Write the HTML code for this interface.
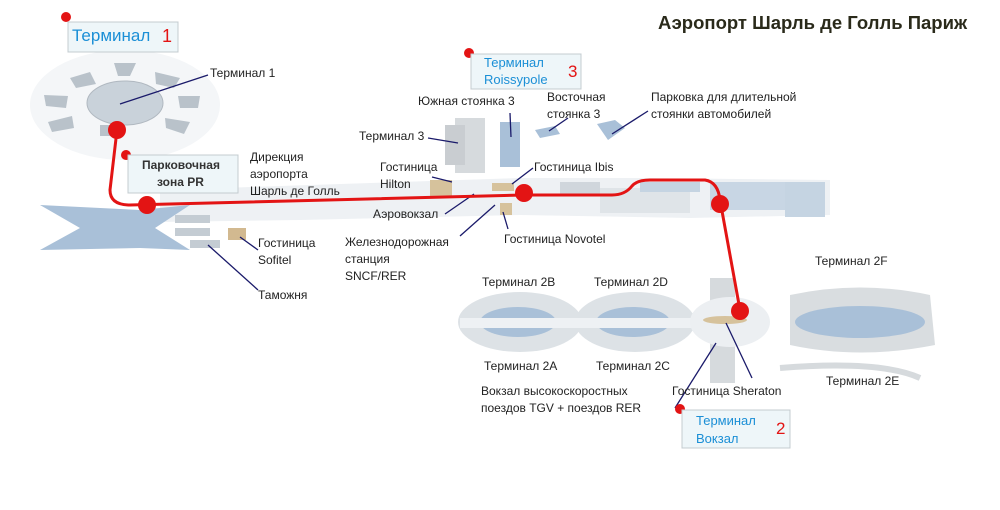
<!DOCTYPE html>
<html><head><meta charset="utf-8"><style>
html,body{margin:0;padding:0;background:#fff;width:1000px;height:510px;overflow:hidden}
svg{display:block}
text{font-family:"Liberation Sans","DejaVu Sans",sans-serif;fill:#222;font-size:12px}
</style></head><body>
<svg width="1000" height="510" viewBox="0 0 1000 510" xmlns="http://www.w3.org/2000/svg">
<rect width="1000" height="510" fill="#fff"/>
<text x="658" y="29" style="font-size:18.5px;font-weight:bold;fill:#2a2a1a">Аэропорт Шарль де Голль Париж</text>

<!-- Terminal 1 area -->
<ellipse cx="125" cy="105" rx="95" ry="55" fill="#f4f6f8"/>
<ellipse cx="125" cy="103" rx="38" ry="22" fill="#c9d2da" stroke="#b0b8c0"/>
<g fill="#b9c2ca">
<polygon points="70,78 90,72 96,84 76,88"/><polygon points="114,63 136,63 130,76 118,76"/>
<polygon points="155,72 180,78 174,88 156,84"/><polygon points="44,95 68,96 66,108 46,106"/>
<polygon points="178,96 200,96 198,108 180,108"/><polygon points="48,122 72,116 74,128 52,132"/>
<polygon points="165,118 190,122 184,134 166,128"/><polygon points="100,125 120,125 118,136 100,136"/>
</g>
<!-- central strip -->
<polygon points="160,190 520,178 640,178 830,180 830,215 690,218 520,215 300,220 160,222" fill="#eef1f4"/>
<rect x="600" y="188" width="90" height="25" fill="#dfe4e8"/>
<rect x="640" y="182" width="60" height="10" fill="#c5d4e2"/>
<rect x="710" y="182" width="80" height="28" fill="#c8d6e4"/>
<rect x="785" y="182" width="40" height="35" fill="#c5d4e2"/>
<rect x="560" y="182" width="40" height="14" fill="#d0d6dc"/>
<!-- bowtie -->
<polygon points="40,205 140,210 190,205 155,228 190,250 140,248 40,250 80,228" fill="#a9c0d8"/>
<rect x="175" y="215" width="35" height="8" fill="#c4ccd3"/><rect x="175" y="228" width="35" height="8" fill="#c4ccd3"/>
<rect x="190" y="240" width="30" height="8" fill="#c4ccd3"/>
<rect x="228" y="228" width="18" height="12" fill="#d2b990"/>
<!-- Terminal 3 area -->
<rect x="455" y="118" width="30" height="55" fill="#d6dadd"/>
<rect x="445" y="125" width="20" height="40" fill="#c9cdd1"/>
<rect x="500" y="122" width="20" height="45" fill="#a9c0d8"/>
<polygon points="535,130 555,126 560,134 540,138" fill="#a9c0d8"/>
<polygon points="597,124 615,120 625,128 608,140" fill="#a9c0d8"/>
<rect x="430" y="180" width="22" height="16" fill="#d6c29c"/>
<rect x="492" y="183" width="22" height="8" fill="#d6c29c"/>
<rect x="500" y="203" width="12" height="12" fill="#d6c29c"/>
<!-- Terminal 2 -->
<ellipse cx="520" cy="322" rx="62" ry="30" fill="#dde2e6"/>
<ellipse cx="518" cy="322" rx="38" ry="15" fill="#a9c0d8"/>
<ellipse cx="635" cy="322" rx="60" ry="30" fill="#dde2e6"/>
<ellipse cx="633" cy="322" rx="37" ry="15" fill="#a9c0d8"/>
<rect x="460" y="318" width="270" height="10" fill="#eef1f4"/>
<rect x="710" y="278" width="25" height="105" fill="#d6dadd"/>
<ellipse cx="730" cy="322" rx="40" ry="25" fill="#eceff2"/>
<ellipse cx="725" cy="320" rx="22" ry="4" fill="#d6c29c"/>
<path d="M790,295 Q860,280 930,295 L935,345 Q860,360 790,345 Z" fill="#d9dde0"/>
<ellipse cx="860" cy="322" rx="65" ry="16" fill="#a9c0d8"/>
<path d="M780,368 Q880,360 920,378" stroke="#d6dadd" stroke-width="6" fill="none"/>

<!-- leader lines -->
<g stroke="#1a1a6a" stroke-width="1.3" fill="none">
<line x1="120" y1="104" x2="208" y2="75"/>
<line x1="240" y1="237" x2="258" y2="250"/><line x1="208" y1="245" x2="258" y2="290"/>
<line x1="458" y1="143" x2="428" y2="138"/><line x1="511" y1="137" x2="510" y2="113"/>
<line x1="549" y1="131" x2="568" y2="118"/><line x1="612" y1="134" x2="648" y2="111"/>
<line x1="452" y1="182" x2="432" y2="177"/><line x1="512" y1="184" x2="533" y2="168"/>
<line x1="474" y1="194" x2="445" y2="214"/><line x1="495" y1="205" x2="460" y2="236"/>
<line x1="503" y1="212" x2="508" y2="229"/>
<line x1="726" y1="323" x2="752" y2="378"/><line x1="716" y1="343" x2="675" y2="408"/>
</g>

<!-- red route -->
<path d="M117,130 L110,190 Q110,205 130,205 L524,195 L612,195 Q625,195 632,186 Q637,180 650,180 L705,180 Q718,182 720,200 L740,310" stroke="#e31414" stroke-width="3" fill="none"/>
<g fill="#e31414">
<circle cx="117" cy="130" r="9"/><circle cx="147" cy="205" r="9"/><circle cx="524" cy="193" r="9"/>
<circle cx="720" cy="204" r="9"/><circle cx="740" cy="311" r="9"/>
<circle cx="66" cy="17" r="5"/><circle cx="126" cy="155" r="5"/><circle cx="469" cy="53" r="5"/><circle cx="680" cy="409" r="5"/>
</g>

<!-- boxes -->
<rect x="68" y="22" width="110" height="30" fill="#eef6f9" stroke="#c4ccd0"/>
<text x="72" y="41" style="font-size:17px;fill:#1b8fd6">Терминал</text>
<text x="162" y="42" style="font-size:18px;fill:#e31414">1</text>
<rect x="128" y="155" width="110" height="38" fill="#eef6f9" stroke="#c4ccd0"/>
<text x="142" y="169" style="font-size:12px;font-weight:bold;fill:#333">Парковочная</text>
<text x="157" y="186" style="font-size:12px;font-weight:bold;fill:#333">зона PR</text>
<rect x="471" y="54" width="110" height="35" fill="#eef6f9" stroke="#c4ccd0"/>
<text x="484" y="67" style="font-size:13px;fill:#1b8fd6">Терминал</text>
<text x="484" y="84" style="font-size:13px;fill:#1b8fd6">Roissypole</text>
<text x="568" y="77" style="font-size:17px;fill:#e31414">3</text>
<rect x="682" y="410" width="108" height="38" fill="#eef6f9" stroke="#c4ccd0"/>
<text x="696" y="425" style="font-size:13px;fill:#1b8fd6">Терминал</text>
<text x="696" y="443" style="font-size:13px;fill:#1b8fd6">Вокзал</text>
<text x="776" y="434" style="font-size:17px;fill:#e31414">2</text>

<!-- labels -->
<text x="210" y="77">Терминал 1</text>
<text x="250" y="161">Дирекция</text><text x="250" y="178">аэропорта</text><text x="250" y="195">Шарль де Голль</text>
<text x="258" y="247">Гостиница</text><text x="258" y="264">Sofitel</text>
<text x="258" y="299">Таможня</text>
<text x="418" y="105">Южная стоянка 3</text>
<text x="547" y="101">Восточная</text><text x="547" y="118">стоянка 3</text>
<text x="651" y="101">Парковка для длительной</text><text x="651" y="118">стоянки автомобилей</text>
<text x="359" y="140">Терминал 3</text>
<text x="380" y="171">Гостиница</text><text x="380" y="188">Hilton</text>
<text x="534" y="171">Гостиница Ibis</text>
<text x="373" y="218">Аэровокзал</text>
<text x="345" y="246">Железнодорожная</text><text x="345" y="263">станция</text><text x="345" y="280">SNCF/RER</text>
<text x="504" y="243">Гостиница Novotel</text>
<text x="482" y="286">Терминал 2B</text><text x="594" y="286">Терминал 2D</text>
<text x="815" y="265">Терминал 2F</text>
<text x="484" y="370">Терминал 2A</text><text x="596" y="370">Терминал 2C</text>
<text x="826" y="385">Терминал 2E</text>
<text x="481" y="395">Вокзал высокоскоростных</text><text x="481" y="412">поездов TGV + поездов RER</text>
<text x="672" y="395">Гостиница Sheraton</text>
</svg>
</body></html>
